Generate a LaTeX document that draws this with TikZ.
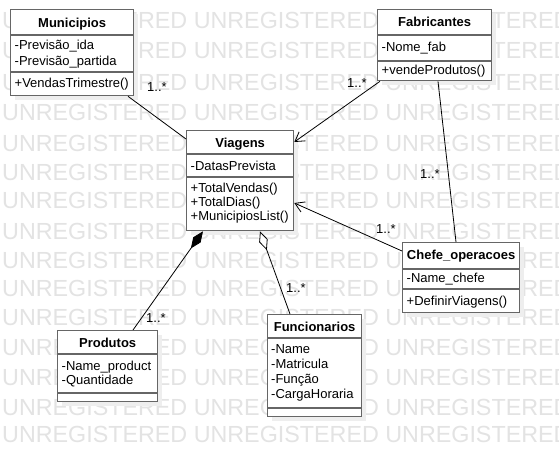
\documentclass[tikz,border=0pt]{standalone}
\usepackage{fontspec}
\setmainfont{Liberation Sans}
\usetikzlibrary{arrows.meta,calc}
\definecolor{boxgray}{HTML}{666666}
\definecolor{wm}{HTML}{E3E3E3}
\definecolor{shadowgray}{HTML}{EEEEEE}
\begin{document}
\begin{tikzpicture}[x=1pt,y=-1pt,
  cls/.style={draw=boxgray,line width=1.3pt,fill=white,inner sep=0pt,anchor=north west},
  sh/.style={fill=shadowgray,draw=none,inner sep=0pt,anchor=north west},
  sepl/.style={draw=boxgray,line width=1.3pt},
  hdr/.style={font=\fontsize{13}{15}\selectfont\bfseries,anchor=base,inner sep=0pt},
  txt/.style={font=\fontsize{13}{15}\selectfont,anchor=base west,inner sep=0pt},
  mult/.style={font=\fontsize{13}{15}\selectfont,anchor=base west,inner sep=0pt},
  wmtext/.style={font=\fontsize{23.3}{28}\selectfont,text=wm,anchor=base west,inner sep=0pt},
  conn/.style={draw=black,line width=0.8pt},
  nav/.style={conn,-{Straight Barb[length=9pt,width=11pt,line width=0.8pt]}},
  comp/.style={conn,{Diamond[length=21pt,width=9pt,fill=black]}-},
  aggr/.style={conn,{Diamond[length=20pt,width=9pt,fill=white]}-},
]
\path[use as bounding box] (0,0) rectangle (559,456);
\clip (0,0) rectangle (559,456);
\fill[white] (0,0) rectangle (559,456);
% watermark
\foreach \yy [count=\i] in {20,50,82,112,143,172,200,231,260,288,317,347,377,407,434}{
  \node[wmtext] (wm\i) at (2,\yy+8.3) {UNREGISTERED UNREGISTERED UNREGISTERED};
}
% shadows
\node[sh,minimum width=123pt,minimum height=86pt] (munsh) at (15,14) {};
\node[sh,minimum width=114pt,minimum height=71pt] (fabsh) at (382,14) {};
\node[sh,minimum width=107pt,minimum height=100pt] (viash) at (191,135) {};
\node[sh,minimum width=117pt,minimum height=70pt] (chesh) at (407,247) {};
\node[sh,minimum width=100pt,minimum height=71pt] (prosh) at (62,335) {};
\node[sh,minimum width=94pt,minimum height=102pt] (funsh) at (272,319) {};
% class boxes
\node[cls,minimum width=123pt,minimum height=86pt] (mun) at (10,9) {};
\node[cls,minimum width=114pt,minimum height=71pt] (fab) at (377,9) {};
\node[cls,minimum width=107pt,minimum height=100pt] (via) at (186,130) {};
\node[cls,minimum width=117pt,minimum height=70pt] (che) at (402,242) {};
\node[cls,minimum width=100pt,minimum height=71pt] (pro) at (57,330) {};
\node[cls,minimum width=94pt,minimum height=102pt] (fun) at (267,314) {};
% separators
\foreach \n/\a/\b in {mun/26/63, fab/26/52, via/24/47, che/27/47, pro/24/63, fun/24/94}{
  \draw[sepl] ($(\n.north west)+(0,\a)$) -- ($(\n.north east)+(0,\a)$);
  \draw[sepl] ($(\n.north west)+(0,\b)$) -- ($(\n.north east)+(0,\b)$);
}
% Municipios
\node[hdr] (munh) at ($(mun.north)+(0,18.3)$) {Municipios};
\node[txt] (muna1) at ($(mun.north west)+(4.5,40.8)$) {-Previsão\_ida};
\node[txt] (muna2) at ($(mun.north west)+(4.5,56.3)$) {-Previsão\_partida};
\node[txt] (munm1) at ($(mun.north west)+(4.5,78.8)$) {+VendasTrimestre()};
% Fabricantes
\node[hdr] (fabh) at ($(fab.north)+(0,17.8)$) {Fabricantes};
\node[txt] (faba1) at ($(fab.north west)+(4.5,42.3)$) {-Nome\_fab};
\node[txt] (fabm1) at ($(fab.north west)+(4.5,65.3)$) {+vendeProdutos()};
% Viagens
\node[hdr] (viah) at ($(via.north)+(0,17.3)$) {Viagens};
\node[txt] (viaa1) at ($(via.north west)+(4.5,40.3)$) {-DatasPrevista};
\node[txt] (viam1) at ($(via.north west)+(4.5,62.8)$) {+TotalVendas()};
\node[txt] (viam2) at ($(via.north west)+(4.5,76.8)$) {+TotalDias()};
\node[txt] (viam3) at ($(via.north west)+(4.5,90.8)$) {+MunicipiosList()};
% Chefe_operacoes
\node[hdr] (cheh) at ($(che.north)+(0,17.8)$) {Chefe\_operacoes};
\node[txt] (chea1) at ($(che.north west)+(4.5,40.8)$) {-Name\_chefe};
\node[txt] (chem1) at ($(che.north west)+(4.5,63.3)$) {+DefinirViagens()};
% Produtos
\node[hdr] (proh) at ($(pro.north)+(0,17.3)$) {Produtos};
\node[txt] (proa1) at ($(pro.north west)+(4.5,40.8)$) {-Name\_product};
\node[txt] (proa2) at ($(pro.north west)+(4.5,54.8)$) {-Quantidade};
% Funcionarios
\node[hdr] (funh) at ($(fun.north)+(0,17.3)$) {Funcionarios};
\node[txt] (funa1) at ($(fun.north west)+(4,39.8)$) {-Name};
\node[txt] (funa2) at ($(fun.north west)+(4,54.8)$) {-Matricula};
\node[txt] (funa3) at ($(fun.north west)+(4,69.8)$) {-Função};
\node[txt] (funa4) at ($(fun.north west)+(4,84.8)$) {-CargaHoraria};
% connectors
\draw[conn] ($(mun.south west)+(118,0)$) -- ($(via.north west)+(0,9)$);
\draw[nav] ($(fab.south west)+(3,0)$) -- ($(via.north east)+(0,12)$);
\draw[conn] ($(fab.south west)+(61,0)$) -- ($(che.north west)+(54,0)$);
\draw[nav] ($(che.north west)+(0,9)$) -- ($(via.north east)+(0,73)$);
\draw[comp] ($(via.south west)+(17,0)$) -- ($(pro.north west)+(76,0)$);
\draw[aggr] ($(via.south west)+(74,0)$) -- ($(fun.north west)+(23,0)$);
% multiplicities
\node[mult] (m1) at (147,91) {1..*};
\node[mult] (m2) at (347,87) {1..*};
\node[mult] (m3) at (420,178) {1..*};
\node[mult] (m4) at (376,233.5) {1..*};
\node[mult] (m5) at (146,322) {1..*};
\node[mult] (m6) at (286,292) {1..*};
\end{tikzpicture}
\end{document}
